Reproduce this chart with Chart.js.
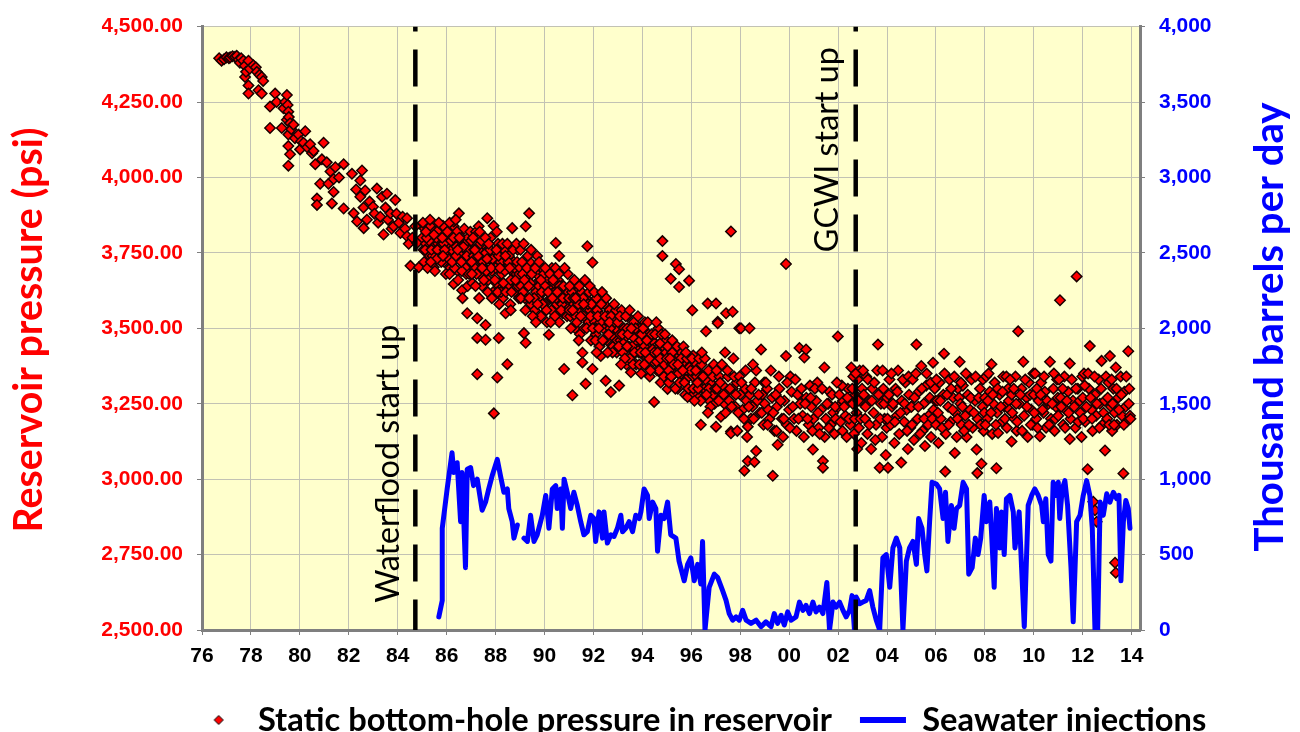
<!DOCTYPE html>
<html><head><meta charset="utf-8">
<script src="https://cdn.jsdelivr.net/npm/chart.js@4/dist/chart.umd.min.js"></script>
<style>html,body{margin:0;padding:0;background:#fff}#wrap{width:1300px;height:732px}</style>
</head><body><div id="wrap"><canvas id="c" width="1300" height="732"></canvas></div>
<script>
// ---------------- DATA ----------------
const xTickYears = [1976,1978,1980,1982,1984,1986,1988,1990,1992,1994,1996,1998,2000,2002,2004,2006,2008,2010,2012,2014];
const pressureTicks = [2500,2750,3000,3250,3500,3750,4000,4250,4500];
const injectionTicks = [0,500,1000,1500,2000,2500,3000,3500,4000];
const pressureLabel = 'Static bottom-hole pressure in reservoir';
const injectionLabel = 'Seawater injections';
const eventYears = [1984.72, 2002.72];
const eventLabels = ['Waterflood start up', 'GCWI start up'];
const eventLabelCentres = [3051, 4092]; // psi at the centre of each rotated label

// [year, psi]
const pressureSamples = [
[1976.7,4395],[1976.8,4387],[1976.9,4392],[1977.0,4398],[1977.1,4395],[1977.15,4398],[1977.25,4402],[1977.35,4400],[1977.42,4403],[1977.5,4390],[1977.55,4380],[1977.6,4395],[1977.69,4387],[1977.75,4370],[1977.76,4333],[1977.8,4350],[1977.9,4387],[1977.9,4305],[1977.9,4278],[1977.95,4360],[1978.1,4372],[1978.2,4365],[1978.24,4350],[1978.31,4289],[1978.35,4340],[1978.44,4333],[1978.44,4278],[1978.5,4320],
[1978.78,4235],[1978.78,4164],[1978.99,4278],[1979.05,4250],[1979.26,4164],[1979.33,4229],[1979.4,4250],[1979.47,4273],[1979.47,4191],[1979.5,4240],[1979.53,4218],[1979.53,4142],[1979.53,4104],[1979.53,4039],[1979.55,4200],[1979.6,4077],[1979.6,4180],[1979.65,4160],[1979.74,4175],[1979.8,4130],[1979.94,4142],[1980.01,4093],[1980.05,4120],[1980.15,4115],[1980.22,4153],[1980.3,4100],[1980.42,4110],[1980.5,4080],[1980.56,4088],[1980.63,4044],[1980.7,3930],[1980.7,3909],[1980.83,3979],[1980.9,4060],[1980.97,4115],[1981.1,4050],[1981.17,3979],[1981.25,4020],[1981.31,3914],[1981.38,3995],[1981.38,3952],[1981.45,4034],[1981.6,4000],[1981.79,4044],[1981.79,3897],
[1982.13,4012],[1982.2,3881],[1982.3,3960],[1982.34,3854],[1982.47,3990],[1982.47,3936],[1982.54,4023],[1982.6,3900],[1982.61,3832],[1982.67,3957],[1982.74,3860],[1982.85,3920],[1982.99,3903],[1983.05,3880],[1983.15,3963],[1983.2,3850],[1983.29,3870],[1983.36,3936],[1983.42,3811],[1983.5,3900],[1983.56,3946],[1983.6,3860],[1983.7,3881],[1983.75,3830],[1983.83,3838],[1983.9,3925],[1983.95,3880],[1984.05,3850],[1984.11,3816],[1984.2,3870],[1984.3,3830],[1984.38,3865],[1984.38,3805],[1984.45,3780],[1984.52,3707],[1984.6,3800],[1984.72,3838],[1984.79,3783],[1984.86,3702],
[1985.0,3800],[1985.05,3760],[1985.1,3830],[1985.15,3780],[1985.2,3751],[1985.25,3810],[1985.3,3740],[1985.34,3838],[1985.4,3790],[1985.45,3770],[1985.47,3702],[1985.5,3820],[1985.55,3750],[1985.61,3821],[1985.65,3780],[1985.7,3730],[1985.75,3794],[1985.8,3760],[1985.85,3840],[1985.9,3720],[1985.95,3800],[1986.02,3772],[1986.05,3740],[1986.1,3810],[1986.15,3700],[1986.2,3760],[1986.25,3790],[1986.29,3838],[1986.29,3854],[1986.29,3647],[1986.35,3730],[1986.4,3770],[1986.45,3690],[1986.5,3881],[1986.55,3750],[1986.6,3800],[1986.63,3626],[1986.7,3720],[1986.75,3780],[1986.8,3680],[1986.84,3550],[1986.9,3760],[1986.95,3710],
[1985.12,3760],[1985.28,3790],[1985.42,3740],[1985.58,3800],[1985.72,3770],[1985.88,3780],[1986.08,3730],[1986.18,3790],[1986.32,3700],[1986.42,3820],[1986.58,3740],[1986.68,3770],[1986.78,3700],[1986.88,3800],
[1985.03,3850],[1985.08,3720],[1985.18,3800],[1985.22,3700],[1985.32,3860],[1985.38,3760],[1985.48,3810],[1985.52,3690],[1985.62,3760],[1985.68,3850],[1985.78,3720],[1985.82,3800],[1985.92,3760],[1985.97,3680],[1985.6,3730],[1985.35,3720],[1985.85,3740],[1985.15,3820],
[1986.03,3820],[1986.12,3680],[1986.22,3720],[1986.28,3800],[1986.38,3740],[1986.47,3660],[1986.52,3800],[1986.62,3690],[1986.72,3830],[1986.82,3740],[1986.92,3680],[1986.97,3820],[1986.12,3850],[1986.37,3860],[1986.65,3600],[1986.86,3640],[1986.45,3760],[1986.6,3720],
[1987.0,3790],[1987.05,3650],[1987.1,3740],[1987.15,3700],[1987.2,3820],[1987.25,3533],[1987.25,3468],[1987.25,3348],[1987.3,3760],[1987.31,3838],[1987.35,3680],[1987.4,3720],[1987.45,3640],[1987.5,3780],[1987.55,3700],[1987.59,3511],[1987.59,3462],[1987.6,3750],[1987.66,3865],[1987.7,3660],[1987.75,3730],[1987.8,3800],[1987.85,3690],[1987.9,3620],[1987.93,3218],[1987.95,3740],[1988.0,3700],[1988.07,3337],[1988.1,3780],[1988.13,3468],[1988.15,3650],[1988.2,3720],[1988.25,3680],[1988.3,3600],[1988.35,3760],[1988.41,3550],[1988.45,3700],[1988.48,3381],[1988.5,3640],[1988.55,3740],[1988.6,3580],[1988.65,3690],[1988.68,3832],[1988.7,3660],[1988.75,3720],[1988.8,3620],[1988.85,3680],[1988.9,3760],[1988.95,3600],
[1987.02,3720],[1987.12,3760],[1987.22,3680],[1987.38,3780],[1987.48,3720],[1987.62,3690],[1987.78,3760],[1987.88,3730],[1988.02,3650],[1988.12,3740],[1988.22,3620],[1988.38,3690],[1988.52,3720],[1988.62,3660],[1988.78,3700],[1988.92,3640],
[1987.03,3680],[1987.08,3800],[1987.18,3640],[1987.28,3740],[1987.33,3600],[1987.42,3790],[1987.52,3660],[1987.58,3800],[1987.68,3620],[1987.72,3780],[1987.82,3700],[1987.92,3840],[1987.97,3660],[1987.15,3760],[1987.45,3700],[1987.65,3730],[1987.85,3600],[1987.35,3820],
[1988.03,3760],[1988.08,3620],[1988.18,3700],[1988.28,3780],[1988.32,3650],[1988.42,3620],[1988.48,3780],[1988.58,3700],[1988.62,3560],[1988.72,3760],[1988.82,3660],[1988.88,3720],[1988.97,3680],[1988.15,3580],[1988.4,3740],[1988.65,3620],[1988.85,3780],[1988.05,3820],
[1989.0,3700],[1989.05,3640],[1989.1,3680],[1989.16,3484],[1989.2,3600],[1989.23,3838],[1989.23,3452],[1989.3,3660],[1989.37,3881],[1989.4,3720],[1989.45,3580],[1989.5,3640],[1989.55,3690],[1989.6,3560],[1989.65,3620],[1989.7,3740],[1989.75,3600],[1989.8,3660],[1989.85,3540],[1989.9,3700],[1989.95,3620],[1990.0,3580],[1990.05,3660],[1990.1,3520],[1990.18,3479],[1990.2,3640],[1990.25,3600],[1990.3,3700],[1990.35,3560],[1990.4,3620],[1990.46,3783],[1990.5,3580],[1990.55,3660],[1990.6,3520],[1990.65,3600],[1990.7,3640],[1990.75,3550],[1990.8,3365],[1990.85,3620],[1990.9,3580],[1990.95,3680],
[1989.02,3760],[1989.12,3620],[1989.28,3700],[1989.42,3650],[1989.58,3600],[1989.68,3680],[1989.78,3640],[1989.92,3580],[1990.02,3640],[1990.12,3690],[1990.28,3560],[1990.38,3650],[1990.48,3600],[1990.62,3640],[1990.72,3580],[1990.88,3600],
[1989.03,3600],[1989.08,3720],[1989.18,3660],[1989.22,3560],[1989.32,3740],[1989.38,3600],[1989.48,3680],[1989.52,3540],[1989.62,3700],[1989.72,3580],[1989.78,3720],[1989.88,3620],[1989.97,3680],[1989.15,3780],[1989.45,3760],[1989.65,3520],[1989.85,3660],[1989.35,3640],
[1990.03,3700],[1990.08,3560],[1990.15,3620],[1990.22,3680],[1990.32,3600],[1990.42,3540],[1990.45,3700],[1990.52,3620],[1990.58,3680],[1990.68,3560],[1990.78,3640],[1990.82,3700],[1990.92,3540],[1990.97,3620],[1990.25,3520],[1990.6,3740],[1990.35,3660],[1990.75,3600],
[1991.0,3600],[1991.05,3540],[1991.1,3640],[1991.14,3278],[1991.2,3580],[1991.25,3500],[1991.3,3620],[1991.35,3560],[1991.4,3600],[1991.45,3480],[1991.5,3580],[1991.55,3419],[1991.55,3387],[1991.6,3540],[1991.68,3316],[1991.7,3600],[1991.75,3772],[1991.8,3520],[1991.85,3560],[1991.9,3460],[1991.96,3718],[1991.96,3365],[1992.0,3580],[1992.05,3520],[1992.1,3480],[1992.15,3560],[1992.2,3600],[1992.25,3440],[1992.3,3408],[1992.35,3540],[1992.4,3500],[1992.45,3580],[1992.5,3326],[1992.55,3460],[1992.6,3520],[1992.65,3560],[1992.71,3289],[1992.75,3480],[1992.8,3440],[1992.85,3540],[1992.9,3500],[1992.95,3420],
[1991.02,3560],[1991.12,3620],[1991.28,3540],[1991.38,3580],[1991.52,3620],[1991.62,3500],[1991.78,3580],[1991.88,3540],[1992.02,3500],[1992.12,3600],[1992.28,3520],[1992.42,3460],[1992.58,3540],[1992.68,3500],[1992.82,3470],[1992.92,3560],
[1991.03,3640],[1991.08,3500],[1991.18,3600],[1991.22,3660],[1991.32,3520],[1991.42,3640],[1991.48,3540],[1991.58,3600],[1991.65,3660],[1991.72,3500],[1991.82,3620],[1991.92,3580],[1991.97,3500],[1991.15,3560],[1991.4,3460],[1991.6,3580],[1991.85,3640],[1991.27,3600],
[1992.03,3620],[1992.08,3460],[1992.18,3540],[1992.22,3500],[1992.32,3580],[1992.38,3460],[1992.48,3540],[1992.52,3600],[1992.62,3480],[1992.72,3540],[1992.78,3420],[1992.88,3520],[1992.97,3460],[1992.13,3420],[1992.35,3620],[1992.58,3420],[1992.85,3580],[1992.65,3520],
[1993.0,3520],[1993.05,3310],[1993.1,3460],[1993.15,3560],[1993.2,3420],[1993.25,3500],[1993.3,3470],[1993.35,3380],[1993.4,3540],[1993.45,3440],[1993.5,3490],[1993.53,3354],[1993.6,3410],[1993.65,3520],[1993.7,3450],[1993.75,3380],[1993.8,3480],[1993.85,3420],[1993.9,3500],[1993.95,3350],[1994.0,3460],[1994.05,3410],[1994.1,3520],[1994.15,3380],[1994.2,3440],[1994.25,3480],[1994.3,3340],[1994.35,3420],[1994.4,3460],[1994.45,3390],[1994.48,3256],[1994.55,3430],[1994.6,3360],[1994.65,3500],[1994.7,3410],[1994.75,3320],[1994.82,3789],[1994.82,3740],[1994.85,3440],[1994.9,3380],[1994.95,3460],
[1993.08,3480],[1993.22,3450],[1993.38,3500],[1993.48,3400],[1993.62,3470],[1993.78,3430],[1993.92,3460],[1994.08,3440],[1994.18,3400],[1994.32,3470],[1994.42,3430],[1994.58,3390],[1994.72,3450],[1994.88,3410],
[1993.03,3440],[1993.08,3540],[1993.18,3480],[1993.28,3400],[1993.32,3540],[1993.42,3480],[1993.48,3560],[1993.58,3440],[1993.62,3380],[1993.72,3500],[1993.82,3540],[1993.88,3380],[1993.97,3480],[1993.13,3380],[1993.55,3500],[1993.68,3420],[1993.93,3420],[1993.38,3440],
[1994.03,3500],[1994.08,3380],[1994.18,3460],[1994.22,3520],[1994.28,3400],[1994.38,3480],[1994.48,3420],[1994.52,3480],[1994.62,3420],[1994.68,3360],[1994.78,3480],[1994.88,3340],[1994.97,3420],[1994.12,3420],[1994.33,3360],[1994.57,3520],[1994.73,3400],[1994.92,3480],
[1995.0,3400],[1995.03,3299],[1995.1,3440],[1995.16,3664],[1995.16,3337],[1995.2,3380],[1995.25,3420],[1995.3,3350],[1995.37,3713],[1995.4,3400],[1995.45,3300],[1995.5,3696],[1995.5,3637],[1995.55,3380],[1995.6,3420],[1995.65,3340],[1995.7,3390],[1995.75,3280],[1995.8,3360],[1995.85,3272],[1995.91,3658],[1995.95,3400],[1996.04,3560],[1996.05,3340],[1996.12,3283],[1996.15,3380],[1996.2,3310],[1996.25,3360],[1996.3,3270],[1996.35,3340],[1996.39,3180],[1996.45,3300],[1996.53,3299],[1996.6,3490],[1996.65,3350],[1996.67,3582],[1996.75,3260],[1996.8,3320],[1996.9,3280],[1997.01,3582],[1997.01,3174],
[1995.08,3360],[1995.22,3420],[1995.32,3390],[1995.48,3350],[1995.62,3400],[1995.78,3330],[1995.92,3370],[1996.08,3410],[1996.22,3340],[1996.42,3380],[1996.58,3330],[1996.72,3300],[1996.85,3360],[1996.95,3250],
[1995.03,3440],[1995.08,3320],[1995.13,3400],[1995.22,3460],[1995.28,3380],[1995.35,3300],[1995.42,3440],[1995.52,3320],[1995.58,3400],[1995.68,3440],[1995.72,3320],[1995.82,3400],[1995.88,3300],[1995.97,3360],[1995.18,3340],[1995.45,3380],[1995.65,3360],[1995.78,3420],
[1996.03,3400],[1996.08,3300],[1996.18,3360],[1996.28,3300],[1996.32,3400],[1996.38,3260],[1996.48,3340],[1996.55,3400],[1996.62,3280],[1996.7,3360],[1996.78,3240],[1996.88,3340],[1996.97,3300],[1996.13,3260],[1996.43,3420],[1996.68,3220],[1996.92,3380],[1996.25,3320],
[1997.05,3300],[1997.08,3522],[1997.08,3517],[1997.15,3340],[1997.21,3272],[1997.21,3207],[1997.3,3310],[1997.35,3250],[1997.42,3550],[1997.45,3290],[1997.5,3340],[1997.55,3260],[1997.62,3821],[1997.62,3158],[1997.62,3152],[1997.69,3555],[1997.7,3300],[1997.8,3240],[1997.85,3320],[1997.96,3500],[1998.0,3280],[1998.03,3500],[1998.1,3230],[1998.17,3028],[1998.2,3300],[1998.25,3260],[1998.31,3174],[1998.31,3060],[1998.38,3500],[1998.4,3280],[1998.44,3201],[1998.5,3240],[1998.58,3057],[1998.6,3320],[1998.65,3093],[1998.7,3260],[1998.8,3220],[1998.85,3430],[1998.9,3280],[1998.95,3180],
[1997.03,3360],[1997.12,3260],[1997.18,3320],[1997.25,3380],[1997.32,3280],[1997.4,3220],[1997.48,3360],[1997.58,3300],[1997.65,3240],[1997.75,3340],[1997.82,3280],[1997.92,3220],[1997.97,3340],[1997.38,3420],[1997.72,3400],[1997.88,3160],
[1998.05,3320],[1998.15,3200],[1998.22,3360],[1998.35,3240],[1998.45,3300],[1998.55,3200],[1998.65,3360],[1998.75,3280],[1998.88,3220],[1998.98,3320],[1998.28,3140],[1998.52,3380],
[1999.0,3250],[1999.1,3300],[1999.2,3200],[1999.3,3270],[1999.33,3011],[1999.4,3160],[1999.5,3240],[1999.53,3114],[1999.6,3300],[1999.7,3200],[1999.8,3260],[1999.87,3713],[1999.87,3408],[1999.9,3180],[2000.0,3230],[2000.1,3290],[2000.2,3200],[2000.3,3160],[2000.42,3435],[2000.45,3250],[2000.55,3210],[2000.62,3403],[2000.69,3430],[2000.7,3270],[2000.8,3180],[2000.9,3240],[2000.97,3098],[2001.0,3200],[2001.1,3260],[2001.2,3170],[2001.3,3230],[2001.38,3060],[2001.38,3038],[2001.44,3370],[2001.5,3200],[2001.6,3250],[2001.7,3180],[2001.8,3220],[2001.9,3200],[2001.99,3473],[2002.0,3240],[2002.1,3190],[2002.2,3260],[2002.3,3210],[2002.4,3300],[2002.5,3180],[2002.54,3370],[2002.6,3250],[2002.65,3150],[2002.7,3280],[2002.75,3220],[2002.8,3330],[2002.85,3170],[2002.9,3260],[2002.95,3120],
[1999.15,3230],[1999.45,3280],[1999.75,3140],[2000.05,3340],[2000.35,3280],[2000.6,3140],[2000.85,3310],[2001.15,3320],[2001.45,3140],[2001.65,3290],[2001.85,3150],[2002.15,3310],[2002.35,3140],[2002.62,3340],[2002.78,3100],[2002.88,3360],
[1999.05,3320],[1999.12,3180],[1999.25,3360],[1999.35,3220],[1999.48,3160],[1999.58,3340],[1999.65,3260],[1999.78,3200],[1999.92,3320],
[2000.03,3170],[2000.15,3240],[2000.25,3330],[2000.38,3200],[2000.5,3300],[2000.65,3250],[2000.75,3200],[2000.88,3270],[2000.95,3160],
[2001.05,3300],[2001.18,3220],[2001.25,3150],[2001.35,3300],[2001.55,3250],[2001.62,3170],[2001.75,3280],[2001.88,3240],[2001.95,3320],
[2002.05,3280],[2002.18,3160],[2002.25,3240],[2002.38,3270],[2002.45,3200],[2002.58,3300],[2002.68,3200],[2002.72,3350],[2002.82,3260],[2002.92,3200],[2002.98,3300],
[2003.05,3280],[2003.1,3200],[2003.15,3340],[2003.2,3150],[2003.3,3260],[2003.35,3100],[2003.4,3300],[2003.45,3220],[2003.55,3180],[2003.6,3360],[2003.63,3446],[2003.7,3038],[2003.75,3250],[2003.8,3140],[2003.85,3300],[2003.9,3200],[2003.95,3080],
[2003.02,3360],[2003.12,3240],[2003.22,3330],[2003.28,3180],[2003.38,3260],[2003.48,3320],[2003.52,3130],[2003.65,3280],[2003.72,3200],[2003.82,3360],[2003.88,3250],[2003.98,3170],
[2004.0,3270],[2004.04,3038],[2004.1,3330],[2004.15,3180],[2004.2,3240],[2004.3,3120],[2004.35,3300],[2004.4,3210],[2004.45,3360],[2004.5,3150],[2004.58,3055],[2004.6,3260],[2004.7,3190],[2004.75,3320],[2004.8,3230],[2004.85,3100],[2004.9,3280],[2004.95,3170],
[2004.02,3200],[2004.08,3280],[2004.18,3350],[2004.25,3250],[2004.32,3190],[2004.42,3290],[2004.55,3220],[2004.65,3330],[2004.72,3250],[2004.82,3160],[2004.88,3340],[2004.98,3240],
[2005.0,3240],[2005.05,3330],[2005.1,3130],[2005.2,3446],[2005.25,3200],[2005.3,3290],[2005.4,3375],[2005.45,3160],[2005.5,3250],[2005.55,3110],[2005.6,3310],[2005.7,3210],[2005.75,3270],[2005.8,3140],[2005.88,3386],[2005.9,3230],[2005.95,3300],
[2005.02,3180],[2005.12,3270],[2005.18,3350],[2005.28,3240],[2005.35,3150],[2005.42,3300],[2005.52,3200],[2005.62,3350],[2005.68,3180],[2005.78,3320],[2005.85,3200],[2005.98,3260],
[2006.0,3180],[2006.05,3260],[2006.1,3120],[2006.15,3320],[2006.2,3200],[2006.3,3280],[2006.33,3416],[2006.38,3025],[2006.4,3150],[2006.5,3240],[2006.55,3330],[2006.6,3190],[2006.7,3270],[2006.77,3087],[2006.8,3220],[2006.85,3140],[2006.9,3300],[2006.97,3389],
[2006.02,3330],[2006.08,3220],[2006.18,3260],[2006.25,3170],[2006.35,3350],[2006.45,3280],[2006.52,3180],[2006.62,3300],[2006.68,3230],[2006.75,3340],[2006.88,3200],[2006.95,3270],
[2007.0,3250],[2007.05,3180],[2007.1,3310],[2007.2,3210],[2007.25,3140],[2007.3,3280],[2007.4,3230],[2007.45,3330],[2007.5,3170],[2007.6,3260],[2007.66,3098],[2007.69,3020],[2007.7,3200],[2007.8,3300],[2007.86,3051],[2007.9,3240],[2007.95,3160],
[2007.02,3320],[2007.08,3240],[2007.15,3160],[2007.22,3350],[2007.35,3180],[2007.42,3270],[2007.55,3220],[2007.62,3340],[2007.75,3270],[2007.82,3180],[2007.92,3330],[2007.98,3220],
[2008.0,3270],[2008.05,3340],[2008.1,3200],[2008.2,3290],[2008.27,3381],[2008.3,3150],[2008.35,3250],[2008.4,3320],[2008.47,3036],[2008.5,3220],[2008.54,3153],[2008.6,3280],[2008.7,3190],[2008.75,3340],[2008.8,3240],[2008.9,3170],[2008.95,3300],
[2008.02,3180],[2008.12,3260],[2008.15,3350],[2008.25,3220],[2008.32,3280],[2008.45,3180],[2008.52,3300],[2008.65,3240],[2008.72,3290],[2008.82,3200],[2008.88,3340],[2008.98,3260],
[2009.0,3230],[2009.09,3125],[2009.1,3280],[2009.2,3200],[2009.25,3340],[2009.3,3160],[2009.36,3490],[2009.4,3250],[2009.5,3300],[2009.57,3389],[2009.6,3210],[2009.7,3270],[2009.75,3140],[2009.8,3320],[2009.9,3230],[2009.95,3180],
[2009.03,3330],[2009.12,3220],[2009.18,3300],[2009.28,3250],[2009.32,3190],[2009.45,3280],[2009.52,3160],[2009.65,3330],[2009.72,3240],[2009.85,3280],[2009.88,3180],[2009.98,3350],
[2010.0,3280],[2010.05,3350],[2010.1,3200],[2010.2,3260],[2010.25,3142],[2010.3,3320],[2010.4,3220],[2010.45,3290],[2010.5,3170],[2010.6,3250],[2010.66,3389],[2010.7,3200],[2010.8,3300],[2010.85,3160],[2010.9,3240],[2010.95,3330],
[2010.02,3220],[2010.12,3300],[2010.15,3170],[2010.28,3280],[2010.35,3230],[2010.42,3340],[2010.55,3260],[2010.62,3180],[2010.75,3250],[2010.82,3350],[2010.88,3200],[2010.98,3270],
[2011.0,3210],[2011.07,3593],[2011.1,3270],[2011.2,3180],[2011.25,3340],[2011.3,3230],[2011.4,3290],[2011.47,3383],[2011.47,3133],[2011.5,3200],[2011.6,3260],[2011.7,3170],[2011.75,3672],[2011.8,3300],[2011.9,3220],[2011.95,3140],
[2011.03,3330],[2011.12,3240],[2011.18,3300],[2011.28,3170],[2011.35,3260],[2011.42,3220],[2011.55,3330],[2011.65,3240],[2011.72,3300],[2011.82,3190],[2011.88,3260],[2011.98,3340],
[2012.0,3270],[2012.05,3350],[2012.1,3190],[2012.2,3033],[2012.25,3300],[2012.29,3441],[2012.35,3230],[2012.4,3160],[2012.43,2925],[2012.5,2897],[2012.57,2859],[2012.5,3280],[2012.55,3210],[2012.65,3330],[2012.7,3250],[2012.77,3392],[2012.8,3180],[2012.9,3260],[2012.91,3095],
[2012.02,3200],[2012.08,3310],[2012.15,3240],[2012.22,3350],[2012.32,3270],[2012.38,3200],[2012.48,3340],[2012.58,3250],[2012.68,3170],[2012.75,3300],[2012.85,3220],[2012.95,3340],
[2013.0,3200],[2013.05,3320],[2013.11,3408],[2013.15,3240],[2013.2,3160],[2013.25,3300],[2013.3,3220],[2013.32,2723],[2013.35,2690],[2013.35,3370],[2013.4,3180],[2013.45,3270],[2013.55,3340],[2013.6,3210],[2013.66,3019],[2013.7,3290],[2013.75,3240],[2013.8,3190],[2013.86,3424],[2013.9,3300],[2013.93,3210],
[2013.02,3270],[2013.08,3180],[2013.18,3330],[2013.22,3250],[2013.28,3180],[2013.38,3300],[2013.48,3230],[2013.58,3280],[2013.68,3180],[2013.78,3340],[2013.88,3250],[2013.95,3200]
];

// Seawater injections, thousand barrels per day (null = gap in record)
const seawaterYears = [1985.68,1985.82,1985.82,1986.02,1986.22,1986.29,1986.43,1986.57,1986.63,1986.77,1986.84,1986.98,1987.1,1987.25,1987.45,1987.59,1987.72,1987.86,1988.07,1988.2,1988.34,1988.48,1988.54,1988.68,1988.75,1988.89,1989.0,
1989.16,1989.3,1989.43,1989.57,1989.7,1989.91,1990.05,1990.18,1990.32,1990.46,1990.52,1990.66,1990.73,1990.8,1990.93,1991.07,1991.2,1991.34,1991.48,1991.61,1991.75,1991.89,1992.02,1992.09,1992.23,1992.37,1992.43,1992.57,1992.71,1992.84,1992.98,
1993.12,1993.19,1993.32,1993.46,1993.6,1993.73,1993.87,1993.94,1994.07,1994.21,1994.28,1994.42,1994.55,1994.62,1994.76,1994.89,1995.03,1995.16,1995.37,1995.5,1995.71,1995.85,1995.98,1996.12,1996.26,1996.39,1996.46,1996.56,1996.73,1996.94,
1997.08,1997.28,1997.42,1997.55,1997.69,1997.83,1997.96,1998.1,1998.24,1998.44,1998.65,1998.85,1999.05,1999.26,1999.39,1999.53,1999.67,1999.8,1999.94,2000.08,2000.28,2000.42,2000.56,2000.69,2000.83,2000.97,2001.1,2001.24,2001.38,2001.54,2001.65,2001.79,2001.92,
2002.06,2002.2,2002.33,2002.47,2002.57,2002.67,2002.74,2002.88,2003.01,2003.15,2003.29,2003.42,2003.56,2003.7,2003.83,2003.97,2004.11,2004.24,2004.38,2004.52,2004.65,2004.79,2004.92,2005.06,2005.2,2005.29,2005.43,2005.54,2005.63,2005.74,2005.84,
2006.02,2006.15,2006.29,2006.39,2006.49,2006.63,2006.74,2006.84,2006.97,2007.11,2007.25,2007.34,2007.48,2007.61,2007.72,2007.83,2007.97,2008.06,2008.2,2008.27,2008.38,2008.47,2008.61,2008.68,2008.79,2008.88,2009.02,2009.16,2009.23,2009.4,2009.5,2009.61,2009.77,2009.91,
2010.04,2010.18,2010.32,2010.39,2010.49,2010.59,2010.7,2010.79,2010.89,2011.0,2011.06,2011.16,2011.27,2011.38,2011.52,2011.61,2011.75,2011.89,2012.02,2012.16,2012.29,2012.39,2012.5,2012.61,2012.71,2012.84,2012.98,2013.11,2013.25,2013.39,2013.48,2013.56,2013.66,2013.76,2013.86,2013.93];
const seawaterValues = [87,196,674,935,1175,1044,1109,718,1044,413,1066,1077,957,1000,794,848,935,1022,1131,1022,913,935,805,718,609,696,null,
609,587,761,587,631,761,892,674,935,957,805,935,674,1000,913,805,913,826,718,631,652,761,739,587,783,609,783,576,631,620,674,
761,652,674,718,652,761,739,783,935,892,739,848,805,522,761,739,848,631,609,457,326,435,478,326,435,305,587,0,283,370,
348,261,196,109,65,87,65,130,65,44,65,22,54,22,109,44,98,33,120,65,87,185,130,163,109,185,120,152,109,315,0,185,152,
185,130,87,130,228,0,218,174,185,196,261,152,65,0,478,500,283,544,609,544,0,457,544,587,435,739,674,500,392,718,979,
968,935,739,913,587,826,674,805,826,979,935,370,413,609,500,609,892,718,848,652,283,805,544,783,500,870,892,783,544,783,413,22,826,892,
935,892,826,718,870,500,457,979,892,979,739,935,990,826,413,54,718,761,892,990,892,674,0,0,848,761,903,848,913,870,892,326,718,859,805,674];

// ---------------- STYLE / LAYOUT ----------------
const CAL = 'Lato, "Open Sans", sans-serif';
const TICKF = '"Liberation Sans", Arial, sans-serif';
const mc = document.createElement('canvas').getContext('2d');
function textW(t, font){ mc.font = font; return mc.measureText(t).width; }
function fitSize(t, weight, fam, target){ return 100 * target / textW(t, `${weight} 100px ${fam}`); }
function fmt(v, d){ const s = Number(v).toFixed(d); const p = s.split('.'); return p[0].replace(/\B(?=(\d{3})+(?!\d))/g, ',') + (p[1] ? '.' + p[1] : ''); }

const PLOT_LEFT = 202, PLOT_TOP = 17, PLOT_H = 613, RIGHT_W = 160;
const legSize = fitSize(pressureLabel, 'bold', CAL, 574);
const legW2 = textW(injectionLabel, `bold ${legSize}px ${CAL}`);
const BOXW = 46;
const item1W = BOXW + legSize / 2 + 574;
const item2W = BOXW + legSize / 2 + legW2;
const legPad = 860 - 195.6 - item1W;
const rowW = item1W + legPad + item2W + legPad;
const padLeft = 2 * 195.6 - legPad - 1300 + rowW;
const legH = legSize + legPad + 10;
const padBottom = -(legSize / 2) + 2;
const xAxisH = 732 - PLOT_TOP - PLOT_H - legH - padBottom;

// small diamond marker for legend
const diamond = document.createElement('canvas');
diamond.width = 12; diamond.height = 12;
(function(){ const d = diamond.getContext('2d'); d.beginPath(); d.moveTo(6,1.5); d.lineTo(10.5,6); d.lineTo(6,10.5); d.lineTo(1.5,6); d.closePath(); d.fillStyle='#FF0000'; d.fill(); d.lineWidth=1; d.strokeStyle='#000'; d.stroke(); })();

const gridColor = '#C2C2B4';
const axisColor = '#7F7F7F';

const bgPlugin = {
  id: 'plotBg',
  beforeDraw(chart) {
    const {ctx, chartArea: a} = chart;
    ctx.save();
    ctx.fillStyle = '#FFFFFF'; ctx.fillRect(0, 0, chart.width, chart.height);
    ctx.fillStyle = '#FFFFCC'; ctx.fillRect(a.left, a.top, a.right - a.left, a.bottom - a.top);
    ctx.restore();
  }
};
function rotText(ctx, text, x, y, font, color) {
  ctx.save(); ctx.translate(x, y); ctx.rotate(-Math.PI / 2);
  ctx.font = font; ctx.fillStyle = color; ctx.textAlign = 'center'; ctx.textBaseline = 'alphabetic';
  ctx.fillText(text, 0, 0); ctx.restore();
}
const textPlugin = {
  id: 'texts',
  afterDraw(chart) {
    const {ctx} = chart;
    const xs = chart.scales.x, ys = chart.scales.y;
    const t1 = 'Reservoir pressure (psi)', t2 = 'Thousand barrels per day';
    rotText(ctx, t1, 42, 330, `bold ${fitSize(t1,'bold',CAL,405)}px ${CAL}`, '#FF0000');
    rotText(ctx, t2, 1283, 327, `bold ${fitSize(t2,'bold',CAL,449)}px ${CAL}`, '#0000FF');
    const lens = [278, 205], offs = [16, 17.5];
    eventLabels.forEach((t, i) => {
      const px = xs.getPixelForValue(eventYears[i]) - offs[i];
      const py = ys.getPixelForValue(eventLabelCentres[i]);
      rotText(ctx, t, px, py, `normal ${fitSize(t,'normal',CAL,lens[i])}px ${CAL}`, '#000000');
    });
  }
};

const eventDatasets = eventYears.map(yr => ({
  type: 'line', label: 'event', data: [{x: yr, y: 4500}, {x: yr, y: 2500}], yAxisID: 'y',
  borderColor: '#000000', borderWidth: 4.5, borderDash: [37, 18], borderDashOffset: 32,
  pointRadius: 0, order: 1, fill: false
}));

new Chart(document.getElementById('c'), {
  type: 'scatter',
  data: {
    datasets: [
      { type: 'scatter', label: pressureLabel, data: pressureSamples.map(p => ({x: p[0], y: p[1]})), yAxisID: 'y',
        pointStyle: 'rectRot', pointRadius: 5.2, pointBackgroundColor: '#FF0000', pointBorderColor: '#1A0000', pointBorderWidth: 1.5, order: 4 },
      { type: 'line', label: injectionLabel, data: seawaterYears.map((x, i) => ({x: x, y: seawaterValues[i]})), yAxisID: 'y2',
        borderColor: '#0000FF', borderWidth: 5, borderJoinStyle: 'round', borderCapStyle: 'round', pointRadius: 0, tension: 0, spanGaps: false, fill: false, order: 3 },
      ...eventDatasets
    ]
  },
  options: {
    responsive: false, animation: false, events: [],
    layout: { padding: { top: PLOT_TOP, left: padLeft, right: 0, bottom: padBottom } },
    plugins: {
      tooltip: { enabled: false },
      legend: {
        position: 'bottom', align: 'center',
        labels: {
          usePointStyle: true, pointStyleWidth: BOXW, boxHeight: 6, padding: legPad,
          font: { family: CAL, size: legSize, weight: 'bold' }, color: '#000000',
          generateLabels: chart => [
            { text: chart.data.datasets[0].label, fillStyle: '#FF0000', strokeStyle: '#000', lineWidth: 1, pointStyle: diamond, datasetIndex: 0, hidden: false, fontColor: '#000' },
            { text: chart.data.datasets[1].label, fillStyle: '#0000FF', strokeStyle: '#0000FF', lineWidth: 6, pointStyle: 'line', datasetIndex: 1, hidden: false, fontColor: '#000' }
          ]
        }
      }
    },
    scales: {
      x: {
        type: 'linear', min: 1976, max: 2014.34,
        afterBuildTicks: s => { s.ticks = xTickYears.map(v => ({value: v})); },
        afterFit: s => { s.height = xAxisH; },
        ticks: { callback: v => String(Math.round(v) % 100).padStart(2, '0'), autoSkip: false, maxRotation: 0,
                 font: { family: TICKF, size: 21, weight: 'bold' }, color: '#000000', padding: 9 },
        grid: { color: gridColor, lineWidth: 1, tickLength: 5, tickColor: axisColor },
        border: { display: true, color: axisColor, width: 3 }
      },
      y: {
        position: 'left', min: 2500, max: 4500,
        afterBuildTicks: s => { s.ticks = pressureTicks.map(v => ({value: v})); },
        afterFit: s => { s.width = PLOT_LEFT - padLeft; },
        ticks: { callback: v => fmt(v, 2), font: { family: TICKF, size: 21, weight: 'bold' }, color: '#FF0000', padding: 14 },
        grid: { color: gridColor, lineWidth: 1, tickLength: 5, tickColor: axisColor },
        border: { display: true, color: axisColor, width: 3 }
      },
      y2: {
        position: 'right', min: 0, max: 4000,
        afterBuildTicks: s => { s.ticks = injectionTicks.map(v => ({value: v})); },
        afterFit: s => { s.width = RIGHT_W; },
        ticks: { callback: v => fmt(v, 0), font: { family: TICKF, size: 21, weight: 'bold' }, color: '#0000FF', padding: 14 },
        grid: { drawOnChartArea: false, tickLength: 5, tickColor: axisColor, color: axisColor },
        border: { display: true, color: axisColor, width: 3 }
      }
    }
  },
  plugins: [bgPlugin, textPlugin]
});
</script>
</body></html>
